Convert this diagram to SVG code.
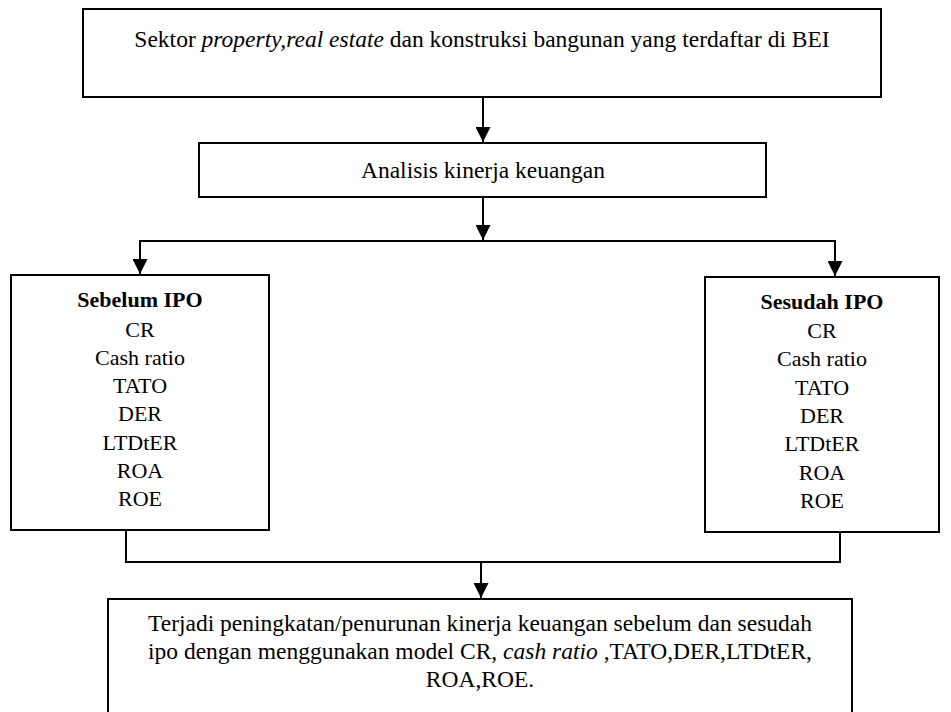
<svg xmlns="http://www.w3.org/2000/svg" width="951" height="712" viewBox="0 0 951 712">
  <style>
    .box { fill: #ffffff; stroke: #000000; stroke-width: 2; }
    .conn { fill: none; stroke: #000000; stroke-width: 2; }
    .t { font-family: 'Liberation Serif', 'Times New Roman', Times, 'DejaVu Serif', serif; font-size: 23.5px; fill: #000000; text-anchor: middle; }
    .s { font-size: 22px; }
    .b { font-weight: bold; }
    .i { font-style: italic; }
  </style>
  <defs>
    <marker id="arrow" markerUnits="userSpaceOnUse" markerWidth="15" markerHeight="15" refX="15" refY="7.5" orient="auto">
      <path d="M0,0 L15,7.5 L0,15 z" fill="#000000"/>
    </marker>
  </defs>

  <g id="connectors">
    <line class="conn" x1="483" y1="97" x2="483" y2="142" marker-end="url(#arrow)"/>
    <line class="conn" x1="483" y1="197" x2="483" y2="240" marker-end="url(#arrow)"/>
    <polyline class="conn" points="140,260 140,241 835,241 835,260"/>
    <line class="conn" x1="140" y1="241" x2="140" y2="274" marker-end="url(#arrow)"/>
    <line class="conn" x1="835" y1="241" x2="835" y2="276" marker-end="url(#arrow)"/>
    <polyline class="conn" points="126,530 126,562 840,562 840,532"/>
    <line class="conn" x1="481" y1="562" x2="481" y2="598" marker-end="url(#arrow)"/>
  </g>

  <g id="node-sektor">
    <rect class="box" x="83" y="9" width="798" height="88"/>
    <text class="t" x="482" y="47">Sektor <tspan class="i">property,real estate</tspan> dan konstruksi bangunan yang terdaftar di BEI</text>
  </g>

  <g id="node-analisis">
    <rect class="box" x="199" y="143" width="567" height="54"/>
    <text class="t" x="483" y="178">Analisis kinerja keuangan</text>
  </g>

  <g id="node-sebelum">
    <rect class="box" x="11" y="275" width="258" height="255"/>
    <text class="t s b" x="140" y="307">Sebelum IPO</text>
    <text class="t s" x="140" y="337">CR</text>
    <text class="t s" x="140" y="365">Cash ratio</text>
    <text class="t s" x="140" y="393">TATO</text>
    <text class="t s" x="140" y="421">DER</text>
    <text class="t s" x="140" y="450">LTDtER</text>
    <text class="t s" x="140" y="478">ROA</text>
    <text class="t s" x="140" y="506">ROE</text>
  </g>

  <g id="node-sesudah">
    <rect class="box" x="705" y="277" width="234" height="255"/>
    <text class="t s b" x="822" y="309">Sesudah IPO</text>
    <text class="t s" x="822" y="338">CR</text>
    <text class="t s" x="822" y="366">Cash ratio</text>
    <text class="t s" x="822" y="395">TATO</text>
    <text class="t s" x="822" y="423">DER</text>
    <text class="t s" x="822" y="451">LTDtER</text>
    <text class="t s" x="822" y="480">ROA</text>
    <text class="t s" x="822" y="508">ROE</text>
  </g>

  <g id="node-hasil">
    <rect class="box" x="108" y="599" width="744" height="118"/>
    <text class="t" x="480" y="631">Terjadi peningkatan/penurunan kinerja keuangan sebelum dan sesudah</text>
    <text class="t" x="480" y="659">ipo dengan menggunakan model CR, <tspan class="i">cash ratio</tspan> ,TATO,DER,LTDtER,</text>
    <text class="t" x="480" y="687">ROA,ROE.</text>
  </g>
</svg>
